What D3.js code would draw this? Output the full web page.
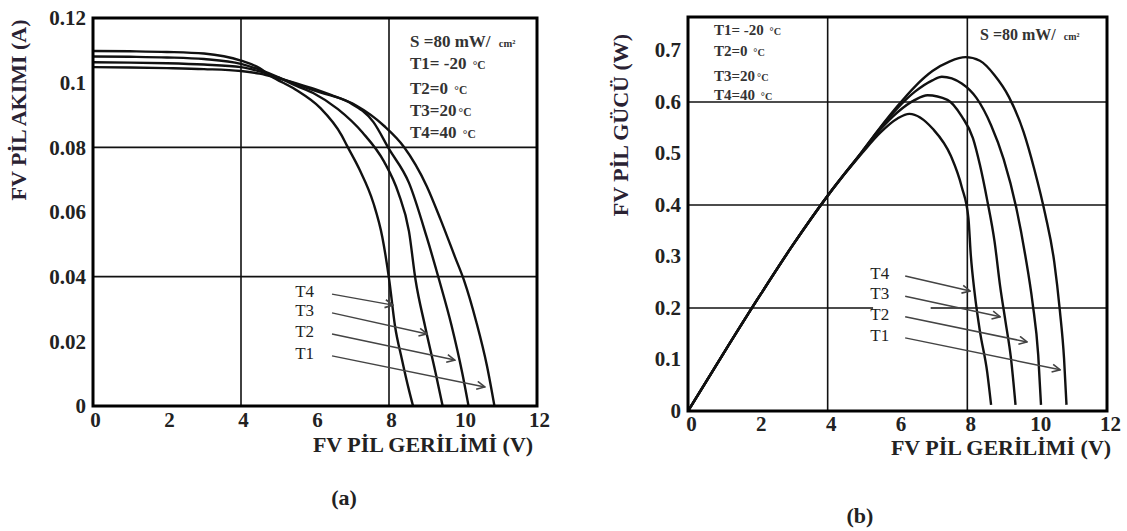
<!DOCTYPE html>
<html><head><meta charset="utf-8">
<script src="https://cdn.jsdelivr.net/npm/d3@7"></script>
<style>
html,body{margin:0;padding:0;background:#fff;}
svg{display:block;font-family:"Liberation Serif","Times New Roman",serif;}
</style></head>
<body><svg id="c" width="1127" height="531"></svg>
<script>
// ---------- data ----------
const voltageTicks = [0, 2, 4, 6, 8, 10, 12];
const voltageGrid = [4, 8];
const currentTicks = [0, 0.02, 0.04, 0.06, 0.08, 0.1, 0.12];
const currentTickLabels = ["0", "0.02", "0.04", "0.06", "0.08", "0.1", "0.12"];
const currentGrid = [0.04, 0.08];
const powerTicks = [0, 0.1, 0.2, 0.3, 0.4, 0.5, 0.6, 0.7];
const powerTickLabels = ["0", "0.1", "0.2", "0.3", "0.4", "0.5", "0.6", "0.7"];
const powerGrid = [0.2, 0.4, 0.6];
const seriesNames = ["T1", "T2", "T3", "T4"];
const legendLines = ["T1= -20 ", "T2=0   ", "T3=20", "T4=40 "];
const legendLinesB = ["T1= -20  ", "T2=0  ", "T3=20", "T4=40 "];

// I-V curves (V, A)
const ivT1 = [[0,0.1048],[1,0.1047],[2,0.1045],[3,0.1042],[4,0.1036],[4.5,0.1028],[5,0.1014],[5.5,0.0998],[6,0.0980],[6.43,0.0962],[7.1,0.0930],[7.87,0.0866],[8.4,0.0802],[9.02,0.0680],[9.4,0.0575],[9.79,0.0459],[10.03,0.0388],[10.36,0.0260],[10.65,0.0123],[10.85,0.0]];
const ivT2 = [[0,0.1063],[1,0.1062],[2,0.1060],[3,0.1056],[4,0.1048],[4.5,0.1035],[5,0.1016],[5.5,0.0995],[6.14,0.0970],[6.91,0.0940],[7.58,0.0878],[8.0,0.0795],[8.54,0.0690],[9.02,0.0522],[9.36,0.0388],[9.69,0.0249],[9.98,0.0102],[10.15,0.0]];
const ivT3 = [[0,0.1081],[1,0.1080],[2,0.1078],[3,0.1073],[4,0.1058],[4.5,0.1040],[5,0.1017],[5.5,0.0990],[5.95,0.0968],[6.62,0.0918],[7.29,0.0845],[7.87,0.0755],[8.25,0.0660],[8.54,0.0540],[8.72,0.0388],[8.97,0.0249],[9.26,0.0102],[9.45,0.0]];
const ivT4 = [[0,0.1098],[1,0.1097],[2,0.1095],[3,0.1090],[4,0.1068],[4.5,0.1045],[4.8,0.1021],[5.47,0.0979],[6.14,0.0922],[6.72,0.0837],[6.86,0.0806],[7.2,0.0732],[7.58,0.0627],[7.82,0.0522],[8.01,0.0386],[8.16,0.0249],[8.35,0.0144],[8.54,0.0049],[8.65,0.0]];

// P-V curves (V, W)
const pvT1 = [[0,0],[1,0.110],[2,0.218],[3,0.322],[4,0.418],[5,0.505],[5.5,0.550],[6,0.592],[6.5,0.630],[7,0.660],[7.5,0.679],[7.95,0.687],[8.36,0.680],[8.78,0.652],[9.19,0.610],[9.61,0.542],[9.92,0.469],[10.23,0.382],[10.49,0.289],[10.65,0.195],[10.77,0.102],[10.84,0.012]];
const pvT2 = [[0,0],[1,0.110],[2,0.218],[3,0.322],[4,0.418],[5,0.505],[5.5,0.549],[6,0.588],[6.5,0.620],[7,0.642],[7.27,0.649],[7.84,0.636],[8.26,0.608],[8.68,0.555],[9.04,0.489],[9.4,0.395],[9.66,0.302],[9.87,0.209],[10.03,0.109],[10.11,0.012]];
const pvT3 = [[0,0],[1,0.110],[2,0.218],[3,0.322],[4,0.418],[5,0.504],[5.5,0.546],[6,0.580],[6.5,0.604],[6.86,0.613],[7.43,0.604],[7.84,0.572],[8.16,0.530],[8.36,0.478],[8.57,0.409],[8.78,0.329],[8.94,0.242],[9.09,0.175],[9.25,0.102],[9.38,0.012]];
const pvT4 = [[0,0],[1,0.110],[2,0.218],[3,0.322],[4,0.418],[5,0.502],[5.5,0.540],[6,0.568],[6.34,0.577],[7.01,0.548],[7.53,0.495],[7.84,0.435],[8.03,0.375],[8.1,0.302],[8.21,0.229],[8.36,0.155],[8.57,0.075],[8.68,0.012]];

// arrow annotations: [label, startV, startY, endV, endY]
const arrowsA = [["T4",6.46,0.0346,8.11,0.0312],["T3",6.46,0.0288,9.03,0.0223],["T2",6.46,0.0223,9.78,0.0142],["T1",6.46,0.0155,10.59,0.0059]];
const arrowsB = [["T4",6.22,0.262,8.08,0.233],["T3",6.22,0.223,8.94,0.183],["T2",6.22,0.183,9.71,0.134],["T1",6.22,0.142,10.66,0.080]];

// ---------- drawing ----------
const svg = d3.select("#c");
const defs = svg.append("defs");
defs.append("marker").attr("id","arr").attr("viewBox","0 0 10 10").attr("refX",9).attr("refY",5)
  .attr("markerWidth",10).attr("markerHeight",10).attr("markerUnits","userSpaceOnUse").attr("orient","auto")
  .append("path").attr("d","M1,1 L9,5 L1,9").attr("fill","none").attr("stroke","#444").attr("stroke-width",1.6);

function panel(cfg){
  const g = svg.append("g");
  const x = d3.scaleLinear().domain([0,12]).range([cfg.x0, cfg.x1]);
  const y = d3.scaleLinear().domain([0, cfg.yMax]).range([cfg.y0, cfg.y1]);
  g.selectAll(".gx").data(voltageGrid).join("line").attr("x1",d=>x(d)).attr("x2",d=>x(d))
    .attr("y1",cfg.y0).attr("y2",cfg.y1).attr("stroke","#111").attr("stroke-width",1.6);
  g.selectAll(".gy").data(cfg.grid).join("line").attr("y1",d=>y(d)).attr("y2",d=>y(d))
    .attr("x1",cfg.x0).attr("x2",cfg.x1).attr("stroke","#111").attr("stroke-width",1.6);
  const line = d3.line().x(d=>x(d[0])).y(d=>y(d[1])).curve(d3.curveMonotoneX);
  g.selectAll(".curve").data(cfg.curves).join("path").attr("d",line)
    .attr("fill","none").attr("stroke","#111").attr("stroke-width",2.4);
  if (cfg.gap) g.append("rect").attr("x",x(cfg.gap[0])).attr("y",y(cfg.gap[2])-2).attr("width",x(cfg.gap[1])-x(cfg.gap[0])).attr("height",4).attr("fill","#fff");
  g.selectAll(".arrow").data(cfg.arrows).join("line")
    .attr("x1",d=>x(d[1])).attr("y1",d=>y(d[2])).attr("x2",d=>x(d[3])).attr("y2",d=>y(d[4]))
    .attr("stroke","#444").attr("stroke-width",1.5).attr("marker-end","url(#arr)");
  g.selectAll(".alab").data(cfg.arrows).join("text")
    .attr("x",d=>x(d[1])-cfg.labOff).attr("y",d=>y(d[2])+3)
    .attr("text-anchor","end").attr("font-size",17).attr("fill","#222").text(d=>d[0]);
  g.append("rect").attr("x",cfg.x0).attr("y",cfg.y1).attr("width",cfg.x1-cfg.x0).attr("height",cfg.y0-cfg.y1)
    .attr("fill","none").attr("stroke","#000").attr("stroke-width",3);
  const xa = d3.axisBottom(x).tickValues(voltageTicks).tickSize(0).tickFormat(d3.format("d"));
  const xg = g.append("g").attr("transform",`translate(${cfg.xLabDx},${cfg.y0})`).call(xa);
  xg.select(".domain").remove();
  xg.selectAll("text").attr("font-size",21).attr("font-weight","bold").attr("fill","#222")
    .attr("font-family","Liberation Serif").attr("dy",cfg.xLabDy);
  const ya = d3.axisLeft(y).tickValues(cfg.yTicks).tickSize(0).tickFormat((d,i)=>cfg.yTickLabels[i]);
  const yg = g.append("g").attr("transform",`translate(${cfg.x0-4},0)`).call(ya);
  yg.select(".domain").remove();
  yg.selectAll("text").attr("font-size",21).attr("font-weight","bold").attr("fill","#222")
    .attr("font-family","Liberation Serif").attr("dy",cfg.yLabDy);
  g.append("text").attr("x",cfg.xTitle[0]).attr("y",cfg.xTitle[1]).attr("text-anchor","middle")
    .attr("font-size",22).attr("font-weight","bold").attr("fill","#222").text("FV PİL GERİLİMİ (V)");
  g.append("text").attr("transform",`translate(${cfg.yTitle[0]},${cfg.yTitle[1]}) rotate(-90)`).attr("text-anchor","middle")
    .attr("font-size",22).attr("font-weight","bold").attr("fill","#2a2233").text(cfg.yTitleText);
  g.append("text").attr("x",cfg.tag[0]).attr("y",cfg.tag[1]).attr("text-anchor","middle")
    .attr("font-size",22).attr("font-weight","bold").attr("fill","#222").text(cfg.tagText);
  return {g,x,y};
}

const A = panel({x0:93,x1:537,y0:406,y1:18,yMax:0.12,grid:currentGrid,curves:[ivT1,ivT2,ivT3,ivT4],
  arrows:arrowsA,labOff:18,yTicks:currentTicks,yTickLabels:currentTickLabels,yLabDy:"0.32em",
  xLabDx:2,xLabDy:"0.85em",xTitle:[423,452],yTitle:[26,110],yTitleText:"FV PİL AKIMI (A)",
  tag:[344,505],tagText:"(a)"});
const B = panel({x0:688,x1:1107,y0:411,y1:17,yMax:0.765,grid:powerGrid,curves:[pvT1,pvT2,pvT3,pvT4],
  arrows:arrowsB,labOff:16,yTicks:powerTicks,yTickLabels:powerTickLabels,yLabDy:"0.3em",
  xLabDx:3,xLabDy:"0.8em",xTitle:[1001,455],yTitle:[628,125],yTitleText:"FV PİL GÜCÜ (W)",
  tag:[860,523],tagText:"(b)",gap:[5.3,6.95,0.2]});

function legend(g, x0, ys, lines, fs){
  lines.forEach((t,i)=>{
    const tx = g.append("text").attr("x",x0).attr("y",ys[i]).attr("font-size",fs).attr("font-weight","bold").attr("fill","#333");
    tx.append("tspan").text(t);
    tx.append("tspan").attr("font-size",fs*0.68).attr("dx",2).text("°C");
  });
}
function sLabel(g, x0, y0, fs){
  const tx = g.append("text").attr("x",x0).attr("y",y0).attr("font-size",fs).attr("font-weight","bold").attr("fill","#333");
  tx.append("tspan").text("S =80 mW/ ");
  tx.append("tspan").attr("font-size",fs*0.62).attr("dx",4).text("cm²");
}
sLabel(A.g, 410, 47, 17);
legend(A.g, 410, [69,94,116,138], legendLines, 17);
sLabel(B.g, 980, 40, 16);
legend(B.g, 714, [35,56,81,100], legendLinesB, 15);
</script></body></html>
